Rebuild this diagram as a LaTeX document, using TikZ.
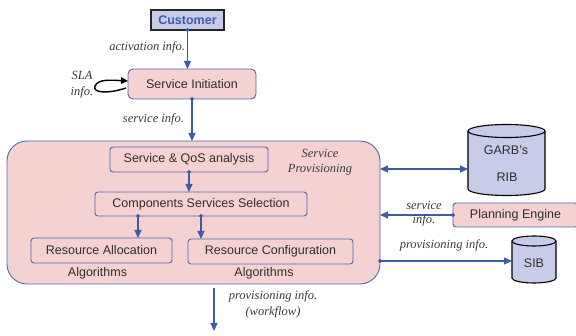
\documentclass[tikz,border=0pt]{standalone}
\usepackage{fontspec}
\setmainfont{Liberation Serif}
\setsansfont{Liberation Sans}
\usetikzlibrary{arrows.meta,calc}
\definecolor{boxpink}{HTML}{F5D2D2}
\definecolor{boxblue}{HTML}{4A69B5}
\definecolor{flowblue}{HTML}{3C5CAA}
\definecolor{storefill}{HTML}{C8CCE8}
\definecolor{labelgray}{HTML}{3A3A3A}
\definecolor{textgray}{HTML}{2E2E2E}
\begin{document}
\begin{tikzpicture}[x=1pt,y=-1pt,
  every node/.style={inner sep=0pt, outer sep=0pt},
  proc/.style={draw=boxblue, line width=0.9pt, fill=boxpink, rounded corners=3pt,
    font=\sffamily\fontsize{12.5}{14}\selectfont, text=textgray},
  lbl/.style={font=\itshape\fontsize{12.5}{15}\selectfont, text=labelgray, align=center},
  plain/.style={font=\sffamily\fontsize{12.5}{14}\selectfont, text=textgray},
  flow/.style={draw=flowblue, line width=1.1pt, -{Triangle[length=8pt,width=7pt]}},
  dotflow/.style={flow, {Circle[length=3.6pt]}-{Triangle[length=8pt,width=7pt]}, shorten <=-1.8pt},
  twoway/.style={draw=flowblue, line width=1.1pt, {Triangle[length=8pt,width=7pt]}-{Triangle[length=8pt,width=7pt]}},
  store/.style={draw=black, line width=1.1pt, fill=storefill},
]
\useasboundingbox (0,0) rectangle (576,336);

% customer and service initiation
\node[draw=black!85, line width=1.3pt, fill=storefill, minimum width=73, minimum height=20,
  font=\sffamily\bfseries\fontsize{12.5}{14}\selectfont, text=flowblue] (cust) at (187.5,20) {Customer};
\node[proc, rounded corners=5pt, minimum width=128, minimum height=30] (init) at (192,84) {Service Initiation};

% provisioning block
\node[draw=boxblue, line width=0.9pt, fill=boxpink, rounded corners=20pt,
  minimum width=373, minimum height=143] (prov) at (193.5,212.5) {};
\node[lbl] (provlbl) at (320,162) {Service\\Provisioning};
\node[proc, minimum width=158, minimum height=25] (qos) at (189,159.5) {Service \& QoS analysis};
\node[proc, minimum width=212, minimum height=24] (comp) at (201,204) {Components Services Selection};
\node[proc, minimum width=141, minimum height=25] (ra) at (101.5,250.5) {Resource Allocation};
\node[proc, minimum width=165, minimum height=25] (rc) at (270.5,251.5) {Resource Configuration};
\node[plain] (raalg) at (97.5,273) {Algorithms};
\node[plain] (rcalg) at (264,273) {Algorithms};

% planning engine
\node[proc, minimum width=125, minimum height=24, anchor=west] (plan) at (453,215) {Planning Engine};

% GARB's RIB store
\node[minimum width=77, minimum height=71] (rib) at (506.5,160) {};
\draw[store] ($(rib.north west)+(0,6.5)$) -- ($(rib.south west)+(0,-6.5)$)
  arc[start angle=180, end angle=360, x radius=38.5pt, y radius=6.5pt]
  -- ($(rib.north east)+(0,6.5)$)
  arc[start angle=0, end angle=180, x radius=38.5pt, y radius=6.5pt] -- cycle;
\draw[black, line width=1.1pt] ($(rib.north west)+(0,6.5)$)
  arc[start angle=180, end angle=360, x radius=38.5pt, y radius=6.5pt];
\node[plain] (ribtxt1) at (506,150) {GARB's};
\node[plain] (ribtxt2) at (507,177) {RIB};

% SIB store
\node[minimum width=44, minimum height=47] (sib) at (534,259.5) {};
\draw[store] ($(sib.north west)+(0,5)$) -- ($(sib.south west)+(0,-5)$)
  arc[start angle=180, end angle=360, x radius=22pt, y radius=5pt]
  -- ($(sib.north east)+(0,5)$)
  arc[start angle=0, end angle=180, x radius=22pt, y radius=5pt] -- cycle;
\draw[black, line width=1.1pt] ($(sib.north west)+(0,5)$)
  arc[start angle=180, end angle=360, x radius=22pt, y radius=5pt];
\node[plain] (sibtxt) at (534,263) {SIB};

% connectors
\draw[dotflow] (cust.south) -- (cust.south |- init.north);
\node[lbl, anchor=east] (actlbl) at (185,47) {activation info.};

\draw[black, line width=1.4pt, -{Triangle[length=7pt,width=6.5pt]}]
  ($(init.west)+(-2,4)$) .. controls (108,94) and (92,93) .. (95,86)
  .. controls (98,79) and (110,80) .. ($(init.west)+(0,-3)$);
\node[lbl, font=\itshape\fontsize{12.5}{16}\selectfont] (slalbl) at (82,85) {SLA\\info.};

\draw[dotflow] (init.south) -- (init.south |- prov.north);
\node[lbl, anchor=east] (svclbl) at (184,119) {service info.};

\draw[dotflow] (qos.south) -- (qos.south |- comp.north);
\draw[dotflow] (comp.south -| 138,0) -- (ra.north -| 138,0);
\draw[dotflow] (comp.south) -- (comp.south |- rc.north);

\draw[twoway] (prov.east |- 0,169) -- (rib.west |- 0,169);
\draw[dotflow] (plan.west) -- (plan.west -| prov.east);
\node[lbl, font=\itshape\fontsize{12.5}{14}\selectfont] (planlbl) at (424,214) {service\\info.};
\draw[dotflow] (prov.east |- 0,261) -- (sib.west |- 0,261);
\node[lbl] (siblbl) at (444,245) {provisioning info.};

\coordinate (wfa) at (214,288);
\coordinate (wfb) at (214,331);
\draw[flow] (wfa) -- (wfb);
\node[lbl, font=\itshape\fontsize{12.5}{16}\selectfont] (wflbl) at (273,304) {provisioning info.\\(workflow)};
\end{tikzpicture}
\end{document}
